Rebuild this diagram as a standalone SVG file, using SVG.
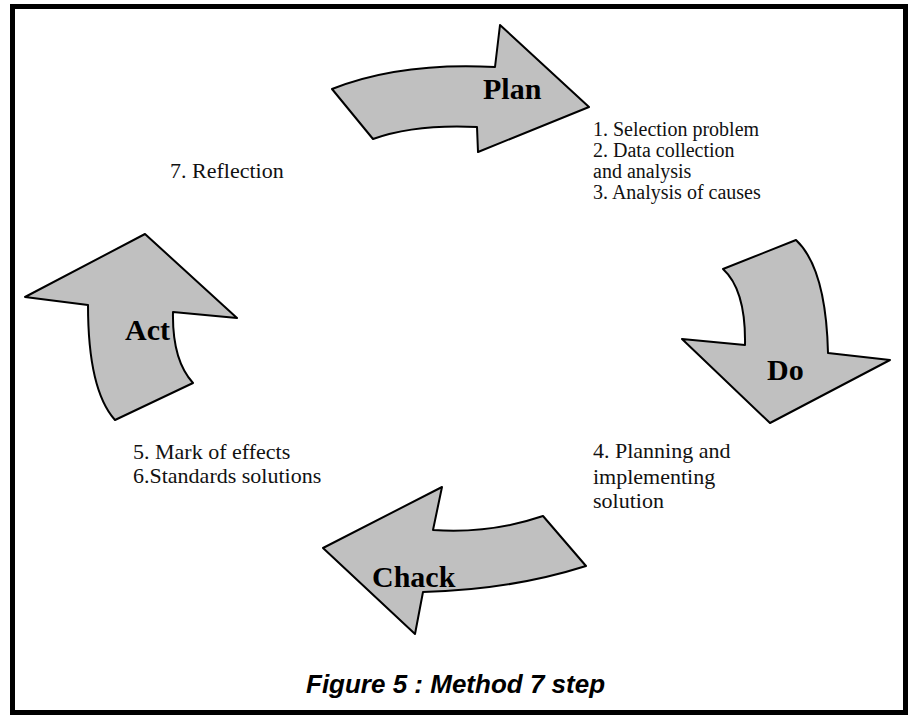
<svg xmlns="http://www.w3.org/2000/svg" width="909" height="715" viewBox="0 0 909 715">
<style>
.arrow{fill:#c0c0c0;stroke:#000;stroke-width:2;stroke-linejoin:round}
.lbl{font-family:"Liberation Serif",serif;font-weight:bold;font-size:30px;fill:#000}
.txt{font-family:"Liberation Serif",serif;font-size:20px;fill:#111}
.txt2{font-family:"Liberation Serif",serif;font-size:22px;fill:#111}
.cap{font-family:"Liberation Sans",Arial,sans-serif;font-weight:bold;font-style:italic;font-size:26px;fill:#000}
</style>
<rect x="0" y="0" width="909" height="715" fill="#fff"/>
<rect x="12.5" y="6.5" width="893" height="706" fill="none" stroke="#000" stroke-width="5"/>
<g id="connectors"></g>
<g id="plan">
<path class="arrow" d="M332,89 Q400,62 495,67 L500,25 L589,107 L478,152 L477,127 Q415,124 373,139 Z"/>
<text class="lbl" x="483" y="99">Plan</text>
</g>
<g id="do">
<path class="arrow" d="M723,269 L796,240 Q826,268 828,353 L890,360 L770,423 L682,339 L745,345 Q746,290 723,269 Z"/>
<text class="lbl" x="767" y="380">Do</text>
</g>
<g id="chack">
<path class="arrow" d="M442,487 L433,530 Q490,534 543,516 L586,566 Q510,590 423,592 L415,634 L323,548 Z"/>
<text class="lbl" x="372" y="587">Chack</text>
</g>
<g id="act">
<path class="arrow" d="M145,234 L237,318 L173,312 Q172,360 193,383 L115,420 Q88,390 88,305 L25,297 Z"/>
<text class="lbl" x="125" y="340">Act</text>
</g>
<g id="plan-steps">
<text class="txt" x="593" y="136">1. Selection problem</text>
<text class="txt" x="593" y="157">2. Data collection</text>
<text class="txt" x="593" y="178">and analysis</text>
<text class="txt" x="593" y="199">3. Analysis of causes</text>
</g>
<g id="reflection">
<text class="txt2" x="170" y="178">7. Reflection</text>
</g>
<g id="do-steps">
<text class="txt2" x="593" y="458">4. Planning and</text>
<text class="txt2" x="593" y="484">implementing</text>
<text class="txt2" x="593" y="508">solution</text>
</g>
<g id="check-steps">
<text class="txt2" x="133" y="459">5. Mark of effects</text>
<text class="txt2" x="133" y="483">6.Standards solutions</text>
</g>
<text class="cap" x="306" y="693">Figure 5 : Method 7 step</text>
</svg>
